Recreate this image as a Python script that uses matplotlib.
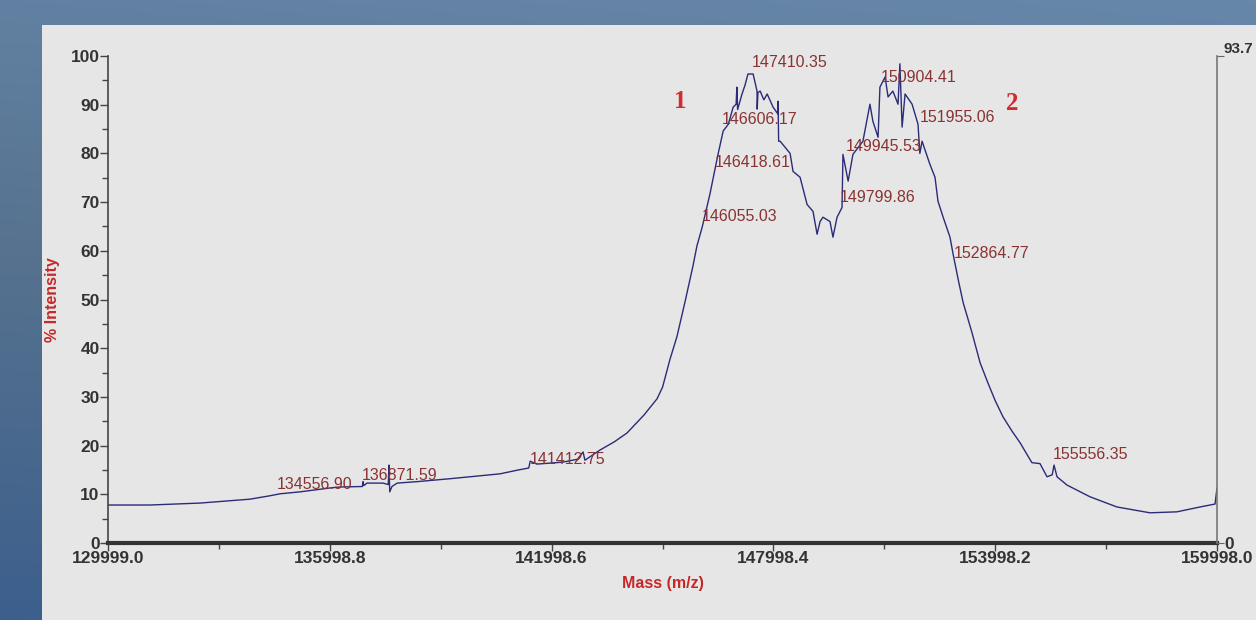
import numpy as np
import matplotlib
matplotlib.use("Agg")
import matplotlib.pyplot as plt
from matplotlib.colors import LinearSegmentedColormap

# spectrum trace (mass in Da, % intensity)
mass = [130000, 131135, 132490, 133840, 134380, 134650, 135190, 136000, 136280,
        136880, 136900, 136920, 137005, 137440, 137580, 137600, 137620, 137680,
        137820, 138360, 139250, 140600, 141100, 141380, 141420, 141600, 142300,
        142700, 142850, 142900, 143310, 143700, 144040, 144500, 144850, 145000,
        145200, 145390, 145610, 145820, 145930, 146070, 146280, 146500, 146640,
        146780, 146910, 146990, 147010, 147030, 147150, 147230, 147310, 147450,
        147555, 147560, 147580, 147640, 147740, 147830, 147990, 148120, 148125,
        148140, 148180, 148310, 148450, 148530, 148720, 148910, 149070, 149180,
        149260, 149340, 149530, 149610, 149720, 149855, 149880, 150020, 150150,
        150420, 150610, 150690, 150830, 150880, 151020, 151100, 151230, 151370,
        151420, 151480, 151560, 151750, 151910, 151960, 152020, 152230, 152370,
        152450, 152590, 152775, 152860, 153000, 153130, 153370, 153590, 153800,
        154000, 154210, 154450, 154670, 154990, 155210, 155400, 155540, 155590,
        155670, 155940, 156560, 157290, 158185, 158915, 159540, 159945, 159998]
intensity = [7.8, 7.8, 8.2, 9.0, 9.7, 10.1, 10.5, 11.3, 11.5,
             11.6, 12.6, 11.8, 12.3, 12.3, 12.0, 16.0, 10.5, 11.6,
             12.3, 12.6, 13.2, 14.2, 15.0, 15.4, 16.8, 16.2, 16.6,
             17.2, 18.7, 17.0, 19.1, 20.8, 22.6, 26.3, 29.6, 32.0,
             37.7, 42.4, 49.6, 56.8, 61.0, 64.8, 71.6, 79.8, 84.6,
             86.0, 89.5, 90.1, 93.6, 89.0, 92.2, 94.0, 96.3, 96.3,
             92.8, 89.1, 92.5, 92.8, 91.0, 92.2, 89.5, 88.1, 90.7,
             82.5, 82.5, 81.3, 80.0, 76.3, 75.1, 69.5, 68.1, 63.4,
             66.0, 66.9, 66.0, 62.8, 66.9, 68.9, 79.8, 74.3, 79.8,
             82.5, 90.1, 86.6, 83.3, 93.6, 95.7, 91.6, 92.8, 90.1,
             98.4, 85.4, 92.2, 90.1, 86.0, 80.0, 82.5, 77.8, 75.1,
             70.2, 66.9, 62.8, 59.3, 54.0, 49.4, 43.2, 37.0, 32.9,
             29.2, 25.9, 23.0, 20.6, 16.5, 16.3, 13.6, 14.0, 16.0,
             13.6, 11.9, 9.5, 7.4, 6.2, 6.4, 7.4, 8.0, 11.3]

# peak annotations
peak_labels = ["134556.90", "136871.59", "141412.75", "146055.03", "146418.61",
               "146606.17", "147410.35", "149799.86", "149945.53", "150904.41",
               "151955.06", "152864.77", "155556.35"]
peak_label_y = [12.1, 13.8, 17.1, 67.1, 78.2, 87.0, 98.6, 71.0, 81.5, 95.5,
                87.4, 59.5, 18.1]

x_ticks = [129999.0, 135998.8, 141998.6, 147998.4, 153998.2, 159998.0]
species = ["1", "2"]
species_pos = [(145472, 90.7), (154452, 90.3)]

W, H = 1256, 620
fig = plt.figure(figsize=(W / 100, H / 100), dpi=100)

# blue slide background with grey chart panel
bg = fig.add_axes([0, 0, 1, 1], zorder=-10)
cmap = LinearSegmentedColormap.from_list("bg", ["#6787aa", "#56728f", "#3c5f8c"])
grad = np.linspace(0, 1, 256).reshape(-1, 1) * np.ones((1, 64))
grad = grad * 0.85 + np.linspace(0.15, 0, 64)[None, :]
bg.imshow(grad, aspect="auto", cmap=cmap, extent=[0, 1, 0, 1], origin="upper")
bg.add_patch(plt.Rectangle((42 / W, 0), 1, 1 - 25 / H, color="#e6e6e6", lw=0))
bg.set_xlim(0, 1)
bg.set_ylim(0, 1)
bg.axis("off")

ax = fig.add_axes([108 / W, 1 - 543 / H, (1217 - 108) / W, (543 - 56) / H])
ax.set_facecolor("none")
ax.plot(mass, intensity, color="#2b2b78", lw=1.0)

ax.set_xlim(x_ticks[0], x_ticks[-1])
ax.set_ylim(0, 100)

narrow = ["Liberation Sans Narrow", "DejaVu Sans Condensed", "Liberation Sans"]
tick_font = dict(family=narrow, weight="bold", size=12.5)
ax.set_xticks(x_ticks)
ax.set_xticklabels([f"{t:.1f}" for t in x_ticks], fontdict=tick_font, color="#333333")
ax.set_xticks([(a + b) / 2 for a, b in zip(x_ticks[:-1], x_ticks[1:])], minor=True)
ax.set_yticks(range(0, 101, 10))
ax.set_yticklabels([str(v) for v in range(0, 101, 10)], fontdict=tick_font, color="#333333")
ax.set_yticks(range(5, 100, 10), minor=True)
ax.tick_params(axis="both", which="major", length=6, width=1, color="#444444", pad=0)
ax.tick_params(axis="both", which="minor", length=4, width=1, color="#444444")

for side in ["top", "right"]:
    ax.spines[side].set_visible(False)
ax.spines["left"].set_color("#444444")
ax.spines["left"].set_linewidth(1.2)
ax.spines["bottom"].set_color("#333333")
ax.spines["bottom"].set_linewidth(3)

# right-hand absolute intensity axis
ax2 = ax.twinx()
ax2.set_ylim(0, 100)
ax2.set_yticks([0, 100])
ax2.set_yticklabels(["0", "93.7"], fontdict=tick_font, color="#333333")
ax2.tick_params(axis="y", length=5, color="#666666", pad=0)
for side in ["top", "left", "bottom"]:
    ax2.spines[side].set_visible(False)
ax2.spines["right"].set_color("#777777")
ax2.spines["right"].set_linewidth(1.2)
top_lab = ax2.get_yticklabels()[1]
top_lab.set_va("bottom")
top_lab.set_fontsize(11)

ax.set_xlabel("Mass (m/z)", family=narrow, weight="bold", size=11.5,
              color="#c62828", labelpad=7)
ax.set_ylabel("% Intensity", family=narrow, weight="bold", size=11.5,
              color="#c62828", labelpad=8)

for lab, y in zip(peak_labels, peak_label_y):
    ax.text(float(lab), y, lab, color="#8a3232", fontsize=11.5,
            family=["Liberation Sans", "DejaVu Sans"], ha="left", va="center")

for s, (x, y) in zip(species, species_pos):
    ax.text(x, y, s, color="#d42a2a", fontsize=18, weight="bold",
            family=["Liberation Serif", "DejaVu Serif"], ha="center", va="center")

fig.savefig("out.png", dpi=100)
